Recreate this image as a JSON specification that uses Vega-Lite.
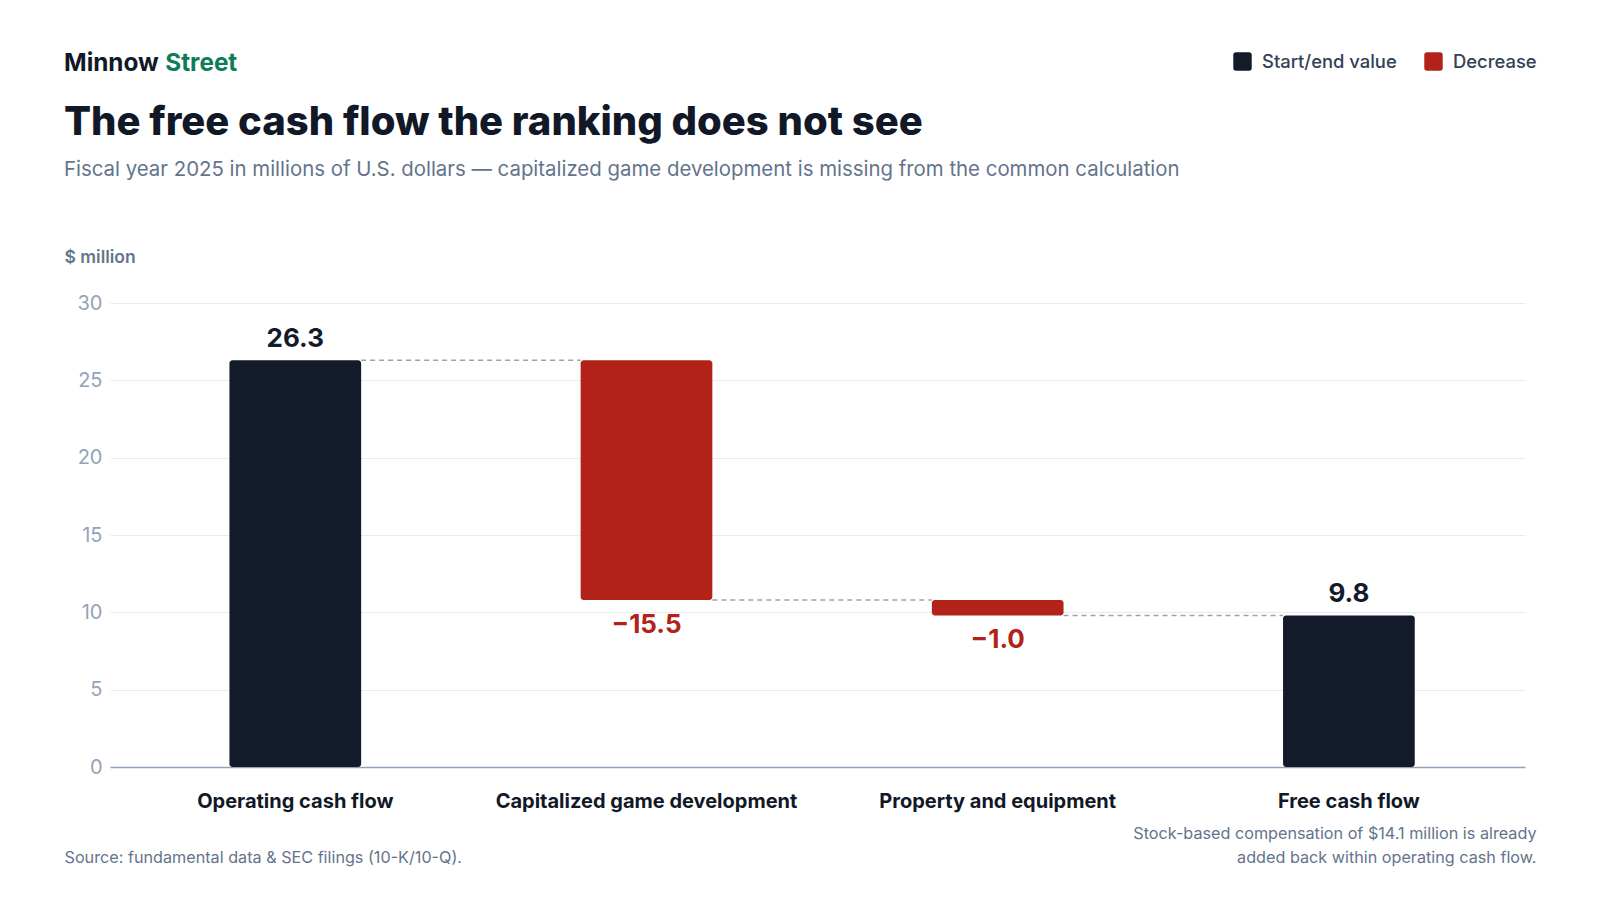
{
  "$schema": "https://vega.github.io/schema/vega-lite/v6.json",
  "width": 1415,
  "height": 464,
  "autosize": {"type": "none"},
  "padding": {"left": 110, "top": 303, "right": 75, "bottom": 133},
  "background": "white",
  "title": {
    "text": "The free cash flow the ranking does not see",
    "subtitle": "Fiscal year 2025 in millions of U.S. dollars — capitalized game development is missing from the common calculation",
    "anchor": "start",
    "frame": "group",
    "dx": -46,
    "offset": -128,
    "fontSize": 40,
    "fontWeight": 800,
    "color": "#111827",
    "subtitleFontSize": 20.4,
    "subtitleFontWeight": 400,
    "subtitleColor": "#64748b",
    "subtitlePadding": 17
  },
  "datasets": {
    "steps": [
      {"step": "Operating cash flow", "start": 0, "end": 26.3, "value": 26.3, "kind": "Start/end value"},
      {"step": "Capitalized game development", "start": 26.3, "end": 10.8, "value": -15.5, "kind": "Decrease"},
      {"step": "Property and equipment", "start": 10.8, "end": 9.8, "value": -1.0, "kind": "Decrease"},
      {"step": "Free cash flow", "start": 0, "end": 9.8, "value": 9.8, "kind": "Start/end value"}
    ],
    "links": [
      {"from": "Operating cash flow", "to": "Capitalized game development", "level": 26.3, "brand": "Street"},
      {"from": "Capitalized game development", "to": "Property and equipment", "level": 10.8, "brand": "Street"},
      {"from": "Property and equipment", "to": "Free cash flow", "level": 9.8, "brand": "Street"}
    ]
  },
  "layer": [
    {
      "data": {"name": "steps"},
      "mark": {"type": "bar", "cornerRadius": 3},
      "encoding": {
        "x": {
          "field": "step",
          "type": "nominal",
          "sort": null,
          "scale": {
            "domain": ["Operating cash flow", "Capitalized game development", "Property and equipment", "Free cash flow"],
            "paddingInner": 0.625,
            "paddingOuter": 0.327,
            "align": 0.52
          },
          "axis": {
            "title": "Source: fundamental data & SEC filings (10-K/10-Q).",
            "labelAngle": 0,
            "labelFontSize": 20,
            "labelFontWeight": 700,
            "labelColor": "#111827",
            "labelPadding": 24,
            "labelLimit": 500,
            "ticks": false,
            "domainColor": "#94a3b8",
            "domainWidth": 1.5,
            "titleX": -46,
            "titleY": 90,
            "titleAlign": "left",
            "titleAnchor": "start",
            "titleBaseline": "middle",
            "titleFontSize": 16.2,
            "titleFontWeight": 400,
            "titleColor": "#64748b"
          }
        },
        "y": {
          "field": "start",
          "type": "quantitative",
          "scale": {"domain": [0, 30], "nice": false},
          "axis": {
            "title": "$ million",
            "values": [0, 5, 10, 15, 20, 25, 30],
            "grid": true,
            "gridColor": "#e8eaee",
            "domain": false,
            "ticks": false,
            "labelFontSize": 20,
            "labelColor": "#94a3b8",
            "labelPadding": 8,
            "titleAngle": 0,
            "titleAlign": "left",
            "titleBaseline": "middle",
            "titleX": -46,
            "titleY": -46,
            "titleFontSize": 17.5,
            "titleFontWeight": 600,
            "titleColor": "#64748b"
          }
        },
        "y2": {"field": "end"},
        "color": {
          "field": "kind",
          "type": "nominal",
          "scale": {"domain": ["Start/end value", "Decrease"], "range": ["#131a29", "#b22219"]},
          "legend": {
            "orient": "none",
            "legendX": 1123,
            "legendY": -251,
            "direction": "horizontal",
            "title": null,
            "symbolType": "M -0.7 -1 H 0.7 Q 1 -1 1 -0.7 V 0.7 Q 1 1 0.7 1 H -0.7 Q -1 1 -1 0.7 V -0.7 Q -1 -1 -0.7 -1 Z",
            "symbolSize": 340,
            "symbolStrokeWidth": 0,
            "symbolOpacity": 1,
            "labelFontSize": 18.4,
            "labelFontWeight": 500,
            "labelColor": "#334155",
            "labelOffset": 10,
            "columnPadding": 27
          }
        }
      }
    },
    {
      "data": {"name": "links"},
      "mark": {"type": "rule", "strokeWidth": 1.5, "color": "#94a3b8", "strokeDash": [5, 4]},
      "encoding": {
        "x": {
          "field": "from",
          "type": "nominal",
          "sort": null,
          "bandPosition": 1,
          "scale": {
            "domain": ["Operating cash flow", "Capitalized game development", "Property and equipment", "Free cash flow"]
          }
        },
        "x2": {"field": "to", "bandPosition": 0},
        "y": {
          "field": "level",
          "type": "quantitative",
          "axis": {
            "orient": "right",
            "title": ["Stock-based compensation of $14.1 million is already", "added back within operating cash flow."],
            "labels": false,
            "ticks": false,
            "domain": false,
            "grid": false,
            "titleAngle": 0,
            "titleAlign": "right",
            "titleBaseline": "top",
            "titleX": 11,
            "titleY": 522,
            "titleFontSize": 16.2,
            "titleFontWeight": 400,
            "titleColor": "#64748b",
            "titleLineHeight": 24.5
          }
        },
        "strokeDash": {
          "field": "brand",
          "type": "nominal",
          "scale": {"range": [[5, 4]]},
          "legend": {
            "orient": "none",
            "legendX": -46,
            "legendY": -251,
            "title": "Minnow",
            "titleOrient": "left",
            "titleFontSize": 24.3,
            "titleFontWeight": 700,
            "titleColor": "#111827",
            "titlePadding": -18,
            "labelFontSize": 24.3,
            "labelFontWeight": 700,
            "labelColor": "#0e7c57",
            "labelOffset": 0,
            "symbolSize": 0,
            "symbolStrokeWidth": 0
          }
        }
      }
    },
    {
      "data": {"name": "steps"},
      "transform": [{"filter": "datum.kind === 'Start/end value'"}],
      "mark": {"type": "text", "baseline": "alphabetic", "dy": -13, "fontSize": 26, "fontWeight": 700, "color": "#131a29"},
      "encoding": {
        "x": {"field": "step", "type": "nominal", "sort": null},
        "y": {"field": "end", "type": "quantitative", "axis": null},
        "text": {"field": "value", "type": "quantitative", "format": ".1f"}
      }
    },
    {
      "data": {"name": "steps"},
      "transform": [{"filter": "datum.kind === 'Decrease'"}],
      "mark": {"type": "text", "baseline": "top", "dy": 12, "fontSize": 26, "fontWeight": 700, "color": "#b22219"},
      "encoding": {
        "x": {"field": "step", "type": "nominal", "sort": null},
        "y": {"field": "end", "type": "quantitative", "axis": null},
        "text": {"field": "value", "type": "quantitative", "format": ".1f"}
      }
    }
  ],
  "config": {
    "font": "Inter",
    "view": {"stroke": null}
  },
  "resolve": {"axis": {"y": "independent"}}
}
